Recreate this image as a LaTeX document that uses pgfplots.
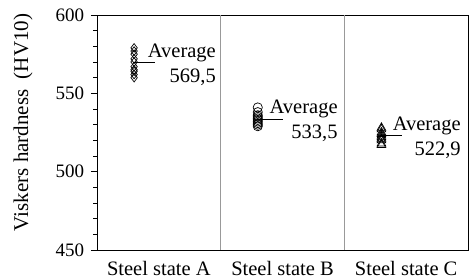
\documentclass[border=0pt]{standalone}
\usepackage{pgfplots}
\pgfplotsset{compat=1.18}
\usepackage{fontspec}
\setmainfont{Liberation Serif}
\begin{document}
\fontsize{20}{24}\selectfont
\begin{tikzpicture}
\useasboundingbox (-97pt,-30pt) rectangle (372pt,250pt);
\begin{axis}[
 scale only axis, width=371pt, height=235pt,
 at={(0,0)}, anchor=south west,
 xmin=0, xmax=3, ymin=450, ymax=600,
 xtick={0.5,1.5,2.5}, xticklabels={Steel state A, Steel state B, Steel state C},
 xtick style={draw=none},
 ytick={450,500,550,600}, minor y tick num=4,
 tick align=outside, major tick length=6pt, minor tick length=3.5pt,
 ytick pos=left,
 ylabel={Viskers hardness\ \ (HV10)},
 /pgf/number format/assume math mode=true,
 yticklabel style={font=\fontsize{19}{22}\selectfont, black},
 xticklabel style={font=\fontsize{20.5}{24}\selectfont, black, yshift=2pt},
 ylabel style={font=\fontsize{21}{24}\selectfont, at={(axis description cs:-0.199,0.543)}, anchor=center},
 clip=false,
 axis line style={line width=0.8pt},
 every tick/.style={black, line width=0.7pt},
]
% separators
\addplot[gray!80, line width=0.8pt] coordinates {(1,450) (1,600)};
\addplot[gray!80, line width=0.8pt] coordinates {(2,450) (2,600)};
% state A
\addplot[only marks, mark=diamond, mark size=4.3pt, black, line width=0.7pt] coordinates {
 (0.3,579) (0.3,577) (0.3,575) (0.3,572) (0.3,570) (0.3,567) (0.3,565) (0.3,564) (0.3,562) (0.3,560)};
\addplot[black, line width=0.7pt] coordinates {(0.29,569.5) (0.47,569.5)};
\node[anchor=west, align=right, inner sep=0pt, font=\fontsize{20.5}{25}\selectfont] at (axis cs:0.41,568.5) {Average\\569,5};
% state B
\addplot[only marks, mark=o, mark size=4.6pt, black, line width=0.7pt] coordinates {
 (1.3,541) (1.3,538) (1.3,536) (1.3,535) (1.3,534) (1.3,533) (1.3,532) (1.3,531) (1.3,530) (1.3,529)};
\addplot[black, line width=0.7pt] coordinates {(1.29,533.5) (1.5,533.5)};
\node[anchor=west, align=right, inner sep=0pt, font=\fontsize{20.5}{25}\selectfont] at (axis cs:1.395,532.5) {Average\\533,5};
% state C
\addplot[only marks, mark=triangle, mark size=5pt, black, line width=0.7pt] coordinates {
 (2.3,528) (2.3,527) (2.3,525) (2.3,524) (2.3,523) (2.3,522) (2.3,521) (2.3,520) (2.3,518) (2.3,517)};
\addplot[black, line width=0.7pt] coordinates {(2.29,522.9) (2.47,522.9)};
\node[anchor=west, align=right, inner sep=0pt, font=\fontsize{20.5}{25}\selectfont] at (axis cs:2.39,521.9) {Average\\522,9};
\end{axis}
\end{tikzpicture}
\end{document}
